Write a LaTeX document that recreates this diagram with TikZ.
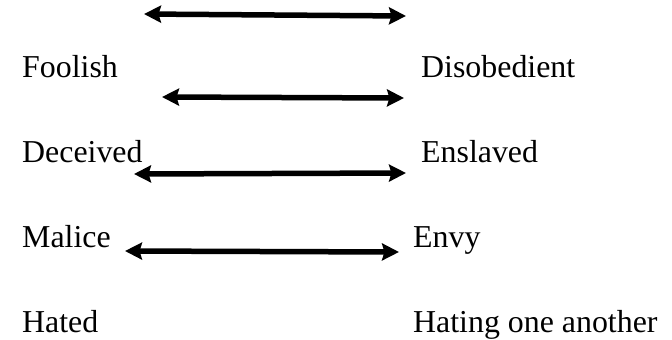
\documentclass[tikz,border=0pt]{standalone}
\usepackage{fontspec}
\setmainfont{Liberation Serif}
\usetikzlibrary{arrows.meta}

\tikzset{
	word/.style={anchor=base west, inner sep=0pt, font=\fontsize{32}{36}\selectfont},
	pair/.style={line width=5.5bp, {Stealth[length=17bp, width=17bp, inset=2.5bp]}-{Stealth[length=17bp, width=17bp, inset=2.5bp]}}
}

\begin{document}
\begin{tikzpicture}[x=1bp, y=-1bp]
		\useasboundingbox ( 0, 0 ) rectangle ( 672, 339 );

		% left column
		\node [word] (foolish) at ( 22, 77 ) {Foolish};
		\node [word] (deceived) at ( 22, 162 ) {Deceived};
		\node [word] (malice) at ( 22, 247 ) {Malice};
		\node [word] (hated) at ( 22, 332 ) {Hated};

		% right column
		\node [word] (disobedient) at ( 421, 77 ) {Disobedient};
		\node [word] (enslaved) at ( 421, 162 ) {Enslaved};
		\node [word] (envy) at ( 413, 247 ) {Envy};
		\node [word] (hating) at ( 413, 332 ) {Hating one another};

		% arrow ends
		\coordinate (a1l) at ( 144, 14 );
		\coordinate (a1r) at ( 406, 16 );
		\coordinate (a2l) at ( 162, 97 );
		\coordinate (a2r) at ( 404, 98 );
		\coordinate (a3l) at ( 134, 174 );
		\coordinate (a3r) at ( 406, 173 );
		\coordinate (a4l) at ( 125, 251 );
		\coordinate (a4r) at ( 399, 252 );

		% arrows
		\draw [pair] (a1l) -- (a1r);
		\draw [pair] (a2l) -- (a2r);
		\draw [pair] (a3l) -- (a3r);
		\draw [pair] (a4l) -- (a4r);
	\end{tikzpicture}
\end{document}
